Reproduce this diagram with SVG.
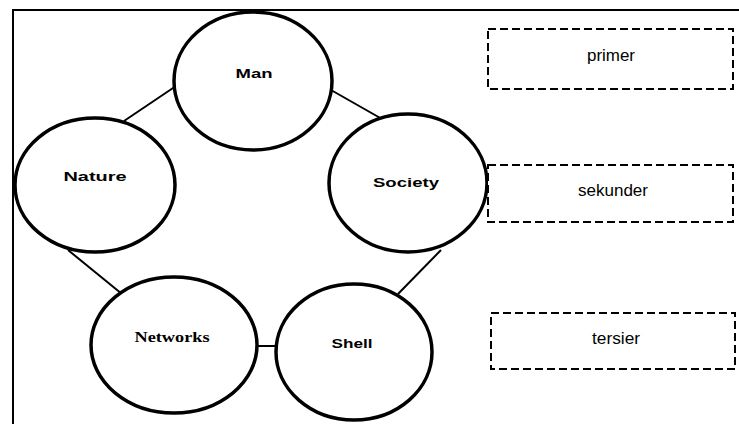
<svg xmlns="http://www.w3.org/2000/svg" width="739" height="424" viewBox="0 0 739 424">
  <style>
    .node ellipse { fill: #ffffff; stroke: #000000; stroke-width: 3.5; }
    .node text { font-family: "Liberation Sans", Arial, sans-serif; font-weight: bold; font-size: 13px; fill: #000000; text-anchor: middle; dominant-baseline: central; }
    .node text.serif { font-family: "Liberation Serif", "Times New Roman", serif; font-size: 14px; }
    .links line { stroke: #000000; stroke-width: 2; }
    .level rect { fill: #ffffff; stroke: #000000; stroke-width: 2; stroke-dasharray: 8 4; }
    .level text { font-family: "Liberation Sans", Arial, sans-serif; font-size: 16px; fill: #000000; text-anchor: middle; dominant-baseline: central; }
  </style>

  <rect width="739" height="424" fill="#ffffff"/>

  <!-- outer frame -->
  <path d="M 13 424 L 13 10 L 739 10" fill="none" stroke="#000000" stroke-width="2"/>

  <!-- connectors -->
  <g id="links" class="links">
    <line x1="176" y1="86" x2="124" y2="121"/>
    <line x1="331" y1="90" x2="382" y2="119"/>
    <line x1="68" y1="250" x2="122" y2="294"/>
    <line x1="441" y1="250" x2="398" y2="294"/>
    <line x1="257" y1="346" x2="277" y2="346"/>
  </g>

  <g id="man" class="node">
    <ellipse cx="253" cy="81" rx="79" ry="69"/>
    <text x="254" y="73" textLength="37" lengthAdjust="spacingAndGlyphs">Man</text>
  </g>

  <g id="nature" class="node">
    <ellipse cx="95" cy="185" rx="80" ry="67"/>
    <text x="95" y="176" textLength="63" lengthAdjust="spacingAndGlyphs">Nature</text>
  </g>

  <g id="society" class="node">
    <ellipse cx="408" cy="183" rx="79" ry="69"/>
    <text x="406" y="182" textLength="66" lengthAdjust="spacingAndGlyphs">Society</text>
  </g>

  <g id="networks" class="node">
    <ellipse cx="174" cy="345" rx="83" ry="68"/>
    <text class="serif" x="172" y="337" textLength="75" lengthAdjust="spacingAndGlyphs">Networks</text>
  </g>

  <g id="shell" class="node">
    <ellipse cx="354" cy="352" rx="78" ry="68"/>
    <text x="352" y="343" textLength="41" lengthAdjust="spacingAndGlyphs">Shell</text>
  </g>

  <!-- level legend -->
  <g id="primer" class="level">
    <rect x="488" y="29" width="245" height="60"/>
    <text x="611" y="55" textLength="48" lengthAdjust="spacingAndGlyphs">primer</text>
  </g>

  <g id="sekunder" class="level">
    <rect x="488" y="165" width="245" height="57"/>
    <text x="613" y="190" textLength="70" lengthAdjust="spacingAndGlyphs">sekunder</text>
  </g>

  <g id="tersier" class="level">
    <rect x="491" y="313" width="244" height="56"/>
    <text x="616" y="338" textLength="48" lengthAdjust="spacingAndGlyphs">tersier</text>
  </g>
</svg>
